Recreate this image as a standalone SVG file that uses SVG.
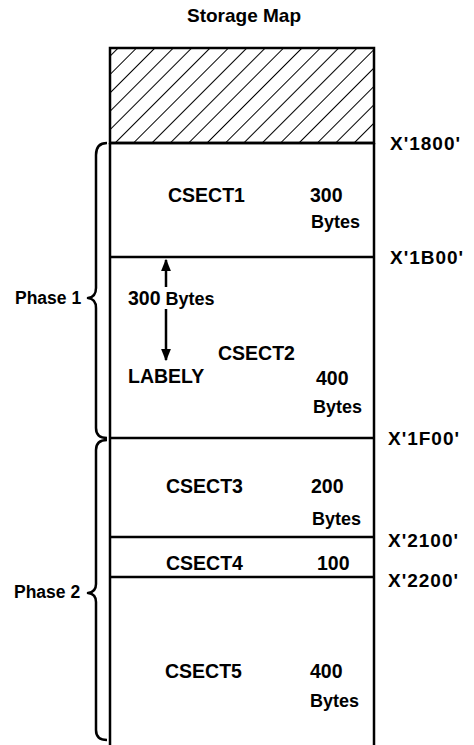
<svg xmlns="http://www.w3.org/2000/svg" width="474" height="745" viewBox="0 0 474 745">
<style>
.t{font-family:"Liberation Sans",Arial,sans-serif;font-weight:bold;fill:#000}
.big{font-size:19.5px}
.sm{font-size:18px}
.addr{font-size:19px;letter-spacing:1px}
.ln{stroke:#000;stroke-width:2.5;fill:none}
.br{stroke:#000;stroke-width:2.5;fill:none;stroke-linejoin:round}
</style>
<defs>
<pattern id="hatch" patternUnits="userSpaceOnUse" width="13" height="13" patternTransform="rotate(45)">
<line x1="0" y1="0" x2="0" y2="13" stroke="#000" stroke-width="2"/>
</pattern>
<marker id="ah" viewBox="0 0 10 10" refX="9" refY="5" markerWidth="5" markerHeight="5" orient="auto" markerUnits="strokeWidth">
<path d="M0,1 L10,5 L0,9 z" fill="#000"/>
</marker>
</defs>
<text class="t" x="244" y="22" font-size="19" text-anchor="middle">Storage Map</text>
<g id="hatched">
<rect x="110" y="48" width="264" height="95" fill="url(#hatch)"/>
<rect class="ln" x="110" y="48" width="264" height="95"/>
</g>
<g id="outline">
<path class="ln" d="M110 143 L110 745 M374 143 L374 745"/>
</g>
<g id="csect1">
<line class="ln" x1="110" y1="143" x2="374" y2="143"/>
<text class="t big" x="168" y="202">CSECT1</text>
<text class="t big" x="310" y="202">300</text>
<text class="t sm" x="311" y="228">Bytes</text>
</g>
<g id="csect2">
<line class="ln" x1="110" y1="257" x2="374" y2="257"/>
<text class="t sm" x="128" y="305"><tspan font-size="19.5">300</tspan> Bytes</text>
<text class="t big" x="218" y="360">CSECT2</text>
<text class="t big" x="128" y="383">LABELY</text>
<text class="t big" x="316" y="385">400</text>
<text class="t sm" x="313" y="413">Bytes</text>
</g>
<g id="csect3">
<line class="ln" x1="110" y1="438" x2="374" y2="438"/>
<text class="t big" x="166" y="493">CSECT3</text>
<text class="t big" x="311" y="493">200</text>
<text class="t sm" x="312" y="525">Bytes</text>
</g>
<g id="csect4">
<line class="ln" x1="110" y1="537" x2="374" y2="537"/>
<text class="t big" x="166" y="570">CSECT4</text>
<text class="t big" x="317" y="570">100</text>
</g>
<g id="csect5">
<line class="ln" x1="110" y1="577" x2="374" y2="577"/>
<text class="t big" x="165" y="678">CSECT5</text>
<text class="t big" x="310" y="678">400</text>
<text class="t sm" x="310" y="707">Bytes</text>
</g>
<g id="addresses">
<text class="t addr" x="390" y="150">X'1800'</text>
<text class="t addr" x="390" y="264">X'1B00'</text>
<text class="t addr" x="388" y="445">X'1F00'</text>
<text class="t addr" x="388" y="547">X'2100'</text>
<text class="t addr" x="388" y="587">X'2200'</text>
</g>
<g id="phase1">
<path class="br" d="M107 143 Q96 143 96 155 L96 288 Q96 297 88 298 Q96 299 96 308 L96 428 Q96 438 107 438"/>
<text class="t" x="15" y="304" font-size="17.5">Phase 1</text>
</g>
<g id="phase2">
<path class="br" d="M107 440 Q96 440 96 450 L96 584 Q96 592 88 593 Q96 594 96 602 L96 730 Q96 740 107 740"/>
<text class="t" x="14" y="598" font-size="17.5">Phase 2</text>
</g>
<g id="connectors">
<line class="ln" x1="166" y1="287" x2="166" y2="260" stroke-width="2" marker-end="url(#ah)"/>
<line class="ln" x1="166" y1="309" x2="166" y2="360" stroke-width="2" marker-end="url(#ah)"/>
</g>
</svg>
